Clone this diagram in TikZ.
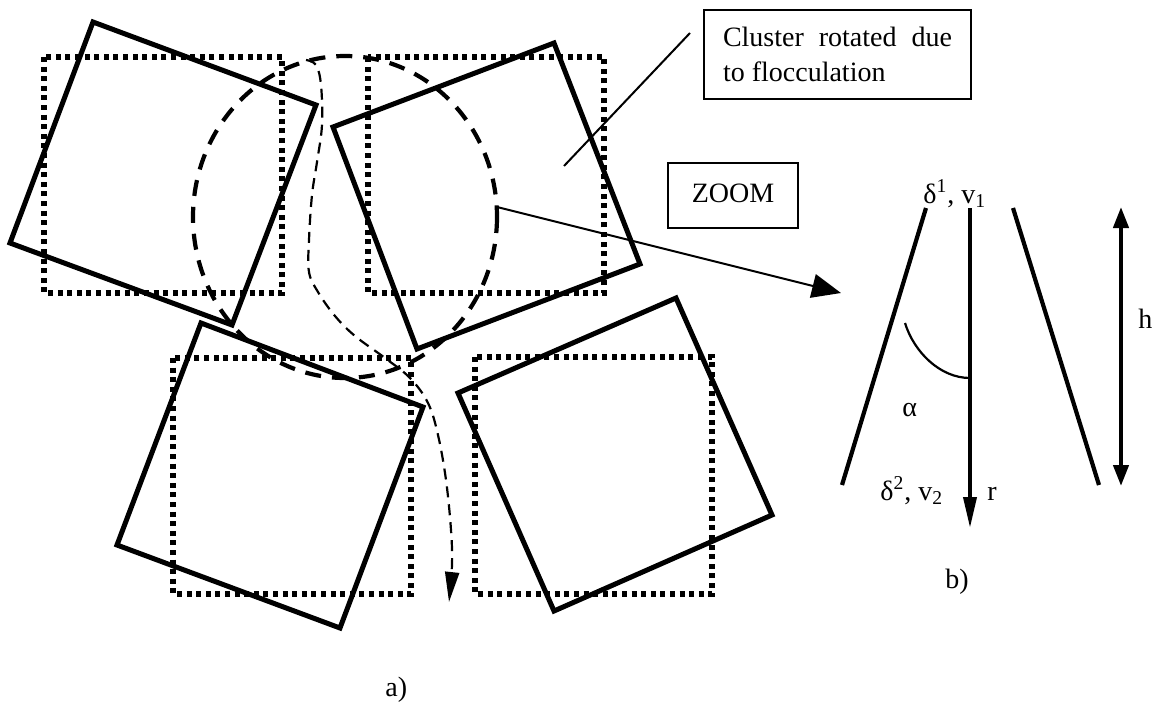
\documentclass[tikz,border=0pt]{standalone}
\usepackage{fontspec}
\setmainfont{Liberation Serif}
\usetikzlibrary{arrows.meta}
\begin{document}
\begin{tikzpicture}[x=0.5pt,y=-0.5pt,
  solidsq/.style={draw, line width=2.5pt, line join=miter},
  dotsq/.style={draw, line width=2.6pt, dash pattern=on 2.5pt off 2.3pt},
  thickdash/.style={draw, line width=2.1pt, dash pattern=on 8pt off 5.5pt},
  thindash/.style={draw, line width=1.1pt, dash pattern=on 5.5pt off 3.5pt},
  thinline/.style={draw, line width=1pt},
  labelbox/.style={draw, line width=1.1pt, inner sep=0pt},
  txt/.style={inner sep=0pt, anchor=base west, font=\fontsize{14}{17.5}\selectfont},
  bline/.style={draw, line width=2.1pt},
  every node/.style={font=\fontsize{14}{17.5}\selectfont}
]
\useasboundingbox (0,0) rectangle (1158,702);

% dotted (original) squares
\draw[dotsq] (44,57) rectangle (282,293);
\draw[dotsq] (368,57) rectangle (604,293);
\draw[dotsq] (173,358) rectangle (411,594);
\draw[dotsq] (475,357) rectangle (712,594);

% rotated clusters
\draw[solidsq] (93,22) -- (316,105) -- (232,325) -- (10,243) -- cycle;
\draw[solidsq] (333,127) -- (554,43) -- (640,264) -- (417,349) -- cycle;
\draw[solidsq] (201,323) -- (423,407) -- (340,628) -- (117,545) -- cycle;
\draw[solidsq] (458,393) -- (676,298) -- (772,515) -- (554,611) -- cycle;

% big dashed ellipse
\draw[thickdash] (345,217) ellipse [x radius=152, y radius=161];

% flow path
\draw[thindash, -{Triangle[length=15pt,width=7pt]}] plot[smooth, tension=0.6] coordinates {
 (306,60) (316,65) (321,85) (322,125) (317,162) (312,195) (309,240) (309,272)
 (318,292) (335,316) (355,336) (385,358) (410,378) (428,403) (438,435)
 (446,480) (451,530) (452,565) (449,602)};

% label box and leader
\node[labelbox, minimum width=133.5pt, minimum height=44.5pt] (lbl) at (837.5,54.5)
  {\parbox{114.5pt}{\makebox[114.5pt][s]{Cluster rotated due}\\to flocculation}};
\coordinate (clpt) at (564,166);
\coordinate (lblpt) at (690,33);
\draw[thinline] (clpt) -- (lblpt);

% zoom box and arrow
\node[labelbox, minimum width=65pt, minimum height=32.5pt] (zoom) at (733,195.5)
  {\raisebox{2pt}{ZOOM}\hspace{4.5pt}};
\coordinate (zfrom) at (497,207);
\coordinate (zto) at (841,293);
\draw[thinline, -{Triangle[length=14.5pt,width=12pt]}] (zfrom) -- (zto);

% part b)
\coordinate (l1) at (926,208); \coordinate (l2) at (842,485);
\coordinate (r1) at (970,208); \coordinate (r2) at (970,528);
\coordinate (q1) at (1013,208); \coordinate (q2) at (1099,485);
\coordinate (h1) at (1121,207); \coordinate (h2) at (1121,486);
\draw[bline] (l1) -- (l2);
\draw[bline] (q1) -- (q2);
\draw[bline, line width=1.9pt, -{Triangle[length=15.5pt,width=6.5pt]}] (r1) -- (r2);
\draw[bline, {Triangle[length=10.5pt,width=7.5pt]}-{Triangle[length=10.5pt,width=7.5pt]}] (h1) -- (h2);
\coordinate (a1) at (905,323); \coordinate (a2) at (970,378);
\draw[draw, line width=1.1pt] (a1) .. controls (914,352) and (940,378) .. (a2);

\node[txt] (d1) at (923,203) {δ\textsuperscript{1}, v\textsubscript{1}};
\node[txt] (d2) at (880,500) {δ\textsuperscript{2}, v\textsubscript{2}};
\node[txt] (rl) at (987,500) {r};
\node[txt] (al) at (902,416) {α};
\node[txt] (hl) at (1138,328) {h};
\node[txt] (bl) at (945,588) {b)};
\node[txt] (alab) at (385,696) {a)};
\end{tikzpicture}
\end{document}
